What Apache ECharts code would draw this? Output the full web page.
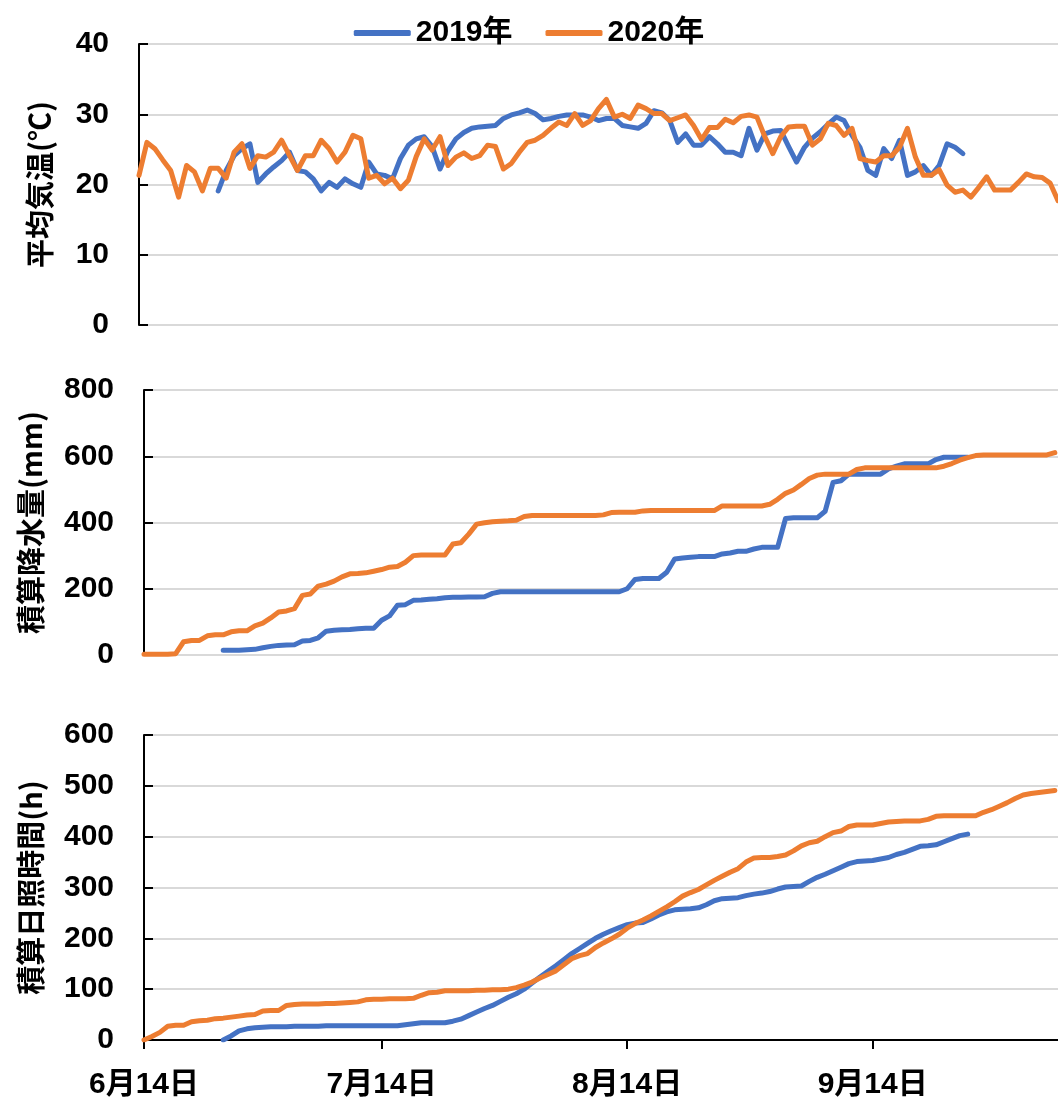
<!DOCTYPE html>
<html>
<head>
<meta charset="utf-8">
<script src="https://cdn.jsdelivr.net/npm/echarts@6/dist/echarts.min.js"></script>
<style>
  html, body { margin: 0; padding: 0; background: #fff; }
  #chart { width: 1058px; height: 1101px; }
</style>
</head>
<body>
<div id="chart"></div>
<script>
// Series names and x-axis ticks (day offsets from 6月14日)
const seriesNames = ['2019年', '2020年'];
const tickDays = [0, 30, 61, 92];
const tickLabels = ['6月14日', '7月14日', '8月14日', '9月14日'];

// First day of each record, as days after 6月14日
const start2019 = 10; // 6月24日
const start2020 = 0;  // 6月14日

// 平均気温 (℃), daily
const temp2019 = [
  19.1, 22.0, 24.1, 25.1, 25.8, 20.3, 21.5, 22.5, 23.4, 24.6,
  22.0, 21.8, 20.8, 19.1, 20.3, 19.6, 20.8, 20.1, 19.6, 23.2,
  21.5, 21.3, 20.8, 23.7, 25.6, 26.5, 26.8, 25.4, 22.2, 24.8,
  26.5, 27.4, 28.0, 28.2, 28.3, 28.4, 29.4, 29.9, 30.2, 30.6,
  30.1, 29.2, 29.4, 29.7, 29.9, 29.9, 29.9, 29.6, 29.1, 29.4,
  29.4, 28.4, 28.2, 28.0, 28.7, 30.5, 30.2, 29.1, 26.0, 27.2,
  25.6, 25.6, 26.8, 25.8, 24.6, 24.6, 24.1, 28.0, 24.9, 27.2,
  27.6, 27.7, 25.4, 23.2, 25.3, 26.6, 27.5, 28.6, 29.6, 29.1,
  27.0, 25.3, 22.0, 21.3, 25.1, 23.7, 26.3, 21.3, 21.8, 22.7,
  21.3, 22.7, 25.8, 25.3, 24.4
];
const temp2020 = [
  21.3, 26.0, 25.1, 23.5, 22.0, 18.2, 22.7, 21.8, 19.1, 22.3,
  22.3, 20.9, 24.6, 25.8, 22.3, 24.1, 23.9, 24.6, 26.3, 24.1,
  22.0, 24.1, 24.1, 26.3, 25.1, 23.2, 24.6, 27.0, 26.5, 20.9,
  21.3, 20.1, 20.9, 19.4, 20.6, 24.0, 26.5, 24.9, 26.8, 22.7,
  23.9, 24.5, 23.7, 24.1, 25.6, 25.4, 22.2, 23.0, 24.6, 26.0,
  26.3, 27.0, 28.0, 28.9, 28.4, 30.1, 28.4, 29.1, 30.8, 32.1,
  29.6, 30.0, 29.4, 31.3, 30.8, 30.1, 30.1, 29.1, 29.5, 29.9,
  28.4, 26.4, 28.1, 28.1, 29.3, 28.8, 29.7, 29.9, 29.6, 26.8,
  24.4, 26.8, 28.2, 28.3, 28.3, 25.6, 26.5, 28.7, 28.4, 27.0,
  28.0, 23.7, 23.4, 23.2, 24.1, 24.1, 25.3, 28.0, 23.9, 21.3,
  21.3, 22.1, 19.9, 18.9, 19.2, 18.2, 19.6, 21.1, 19.2, 19.2,
  19.2, 20.3, 21.5, 21.1, 21.0, 20.2, 17.7
];

// 積算降水量 (mm)
const rain2019 = [
  14, 14, 14, 16, 17, 22, 26, 29, 30, 31,
  42, 44, 52, 72, 75, 76, 77, 79, 81, 81,
  105, 118, 150, 152, 165, 166, 168, 170, 173, 174,
  174, 175, 175, 176, 186, 191, 191, 191, 191, 191,
  191, 191, 191, 191, 191, 191, 191, 191, 191, 191,
  191, 200, 228, 231, 231, 231, 250, 290, 293, 295,
  297, 297, 297, 305, 308, 313, 313, 320, 325, 325,
  325, 412, 414, 414, 414, 414, 434, 521, 526, 546,
  546, 546, 546, 546, 562, 570, 577, 577, 577, 577,
  590, 597, 597, 597, 597
];
const rain2020 = [
  2, 2, 2, 2, 4, 40, 44, 44, 58, 61,
  61, 70, 73, 73, 88, 96, 112, 130, 133, 140,
  180, 184, 208, 214, 223, 236, 245, 246, 248, 253,
  258, 265, 267, 280, 300, 302, 302, 302, 302, 335,
  339, 365, 395, 399, 402, 404, 405, 407, 418, 421,
  421, 421, 421, 421, 421, 421, 421, 421, 423, 430,
  431, 431, 431, 435, 436, 436, 436, 436, 436, 436,
  436, 436, 436, 450, 450, 450, 450, 450, 450, 455,
  470, 488, 498, 515, 533, 543, 546, 546, 546, 546,
  560, 565, 565, 565, 565, 565, 565, 565, 565, 565,
  565, 570, 578, 588, 596, 602, 604, 604, 604, 604,
  604, 604, 604, 604, 604, 611
];

// 積算日照時間 (h)
const sun2019 = [
  0, 8, 18, 22, 24, 25, 26, 26, 26, 27,
  27, 27, 27, 28, 28, 28, 28, 28, 28, 28,
  28, 28, 28, 30, 32, 34, 34, 34, 34, 37,
  41, 48, 55, 62, 68, 76, 84, 91, 100, 112,
  124, 135, 146, 158, 170, 180, 190, 200, 208, 215,
  221, 227, 230, 231, 238, 246, 252, 256, 257, 258,
  260, 266, 274, 278, 279, 280, 284, 287, 289, 292,
  297, 301, 302, 303, 312, 320, 326, 333, 340, 347,
  351, 352, 353, 356, 359, 365, 369, 375, 381, 382,
  384, 390, 396, 402, 405
];
const sun2020 = [
  0, 7, 15, 27, 29, 29, 36, 38, 39, 42,
  43, 45, 47, 49, 50, 57, 58, 58, 68, 70,
  71, 71, 71, 72, 72, 73, 74, 75, 79, 80,
  80, 81, 81, 81, 82, 88, 93, 94, 97, 97,
  97, 97, 98, 98, 99, 99, 100, 103, 108, 114,
  122, 129, 136, 148, 160, 166, 170, 182, 191, 199,
  208, 220, 229, 236, 244, 253, 262, 272, 283, 290,
  296, 305, 314, 322, 330, 337, 350, 358, 359, 359,
  361, 364, 372, 382, 388, 391, 400, 408, 411, 420,
  423, 423, 423, 426, 429, 430, 431, 431, 431, 434,
  440, 441, 441, 441, 441, 441, 448, 453, 460, 467,
  475, 482, 485, 487, 489, 491
];

const BLUE = '#4472C4';
const ORANGE = '#ED7D31';
const FONT = "'Liberation Sans', Arial, 'Noto Sans CJK JP', sans-serif";
const NAME_FONT = "'Noto Sans CJK JP', 'Liberation Sans', sans-serif";

const toPairs = (values, start) => values.map((v, i) => [start + i, v]);

function yAxis(gridIndex, max, interval, name, nameGap) {
  return {
    type: 'value', gridIndex, min: 0, max, interval,
    axisLine: { show: true, lineStyle: { color: '#000', width: 2 } },
    axisTick: { show: true, inside: true, length: 9, lineStyle: { color: '#000', width: 2 } },
    axisLabel: { margin: 30, fontSize: 30, fontWeight: 'bold', color: '#000', fontFamily: FONT },
    splitLine: { show: true, lineStyle: { color: '#d9d9d9', width: 2 } },
    name, nameLocation: 'middle', nameRotate: 90, nameGap,
    nameTextStyle: { fontSize: 29, fontWeight: 'bold', color: '#000', fontFamily: NAME_FONT }
  };
}

function line(name, color, xi, values, start) {
  return {
    type: 'line', name, xAxisIndex: xi, yAxisIndex: xi,
    data: toPairs(values, start),
    symbol: 'none', showSymbol: false,
    lineStyle: { width: 5, color, cap: 'round', join: 'round' },
    itemStyle: { color },
    emphasis: { disabled: true }
  };
}

const chart = echarts.init(document.getElementById('chart'), null, { renderer: 'canvas' });
chart.setOption({
  animation: false,
  backgroundColor: '#fff',
  legend: {
    top: 13, left: 'center',
    icon: 'roundRect',
    itemWidth: 57, itemHeight: 6, itemGap: 33,
    textStyle: { fontSize: 30, fontWeight: 'bold', color: '#000', fontFamily: FONT },
    data: seriesNames
  },
  grid: [
    { left: 139, right: 0, top: 44, height: 281 },
    { left: 144, right: 0, top: 390, height: 265 },
    { left: 144, right: 0, top: 735, height: 305 }
  ],
  xAxis: [
    { type: 'value', gridIndex: 0, min: 0, max: 116, show: false },
    { type: 'value', gridIndex: 1, min: 0, max: 115.4, show: false },
    {
      type: 'value', gridIndex: 2, min: 0, max: 115.4,
      axisLine: { show: true, lineStyle: { color: '#000', width: 2 } },
      axisTick: { show: true, customValues: tickDays, length: 9, lineStyle: { color: '#000', width: 2 } },
      axisLabel: {
        customValues: tickDays,
        formatter: v => tickLabels[tickDays.indexOf(Math.round(v))],
        margin: 30, fontSize: 30, fontWeight: 'bold', color: '#000', fontFamily: FONT
      },
      splitLine: { show: false }
    }
  ],
  yAxis: [
    yAxis(0, 40, 10, '平均気温(℃)', 85),
    yAxis(1, 800, 200, '積算降水量(mm)', 99),
    yAxis(2, 600, 100, '積算日照時間(h)', 99)
  ],
  series: [
    line(seriesNames[0], BLUE, 0, temp2019, start2019),
    line(seriesNames[1], ORANGE, 0, temp2020, start2020),
    line(seriesNames[0], BLUE, 1, rain2019, start2019),
    line(seriesNames[1], ORANGE, 1, rain2020, start2020),
    line(seriesNames[0], BLUE, 2, sun2019, start2019),
    line(seriesNames[1], ORANGE, 2, sun2020, start2020)
  ]
});
</script>
</body>
</html>
